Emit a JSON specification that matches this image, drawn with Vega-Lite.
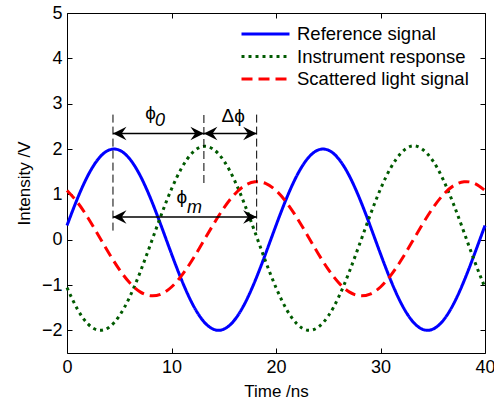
{
 "$schema": "https://vega.github.io/schema/vega-lite/v6.json",
 "autosize": "none",
 "width": 418, "height": 340,
 "padding": {"left": 67, "top": 13, "right": 9, "bottom": 49},
 "background": "white",
 "config": {"font": "Liberation Sans", "view": {"stroke": null},
   "axis": {"grid": false, "domainColor": "black", "tickColor": "black", "labelColor": "black", "titleColor": "black", "labelFontSize": 18, "titleFontSize": 17, "titleFontWeight": "normal", "domainWidth": 1, "tickWidth": 1, "labelFont": "Liberation Sans", "titleFont": "Liberation Sans"}},
 "resolve": {"axis": {"x": "independent", "y": "independent"}},
 "layer": [
  {
   "data": {"values": [
    {"t":0,"v":0.313,"series":"Reference signal"},{"t":1,"v":0.908,"series":"Reference signal"},{"t":2,"v":1.414,"series":"Reference signal"},{"t":3,"v":1.782,"series":"Reference signal"},{"t":4,"v":1.975,"series":"Reference signal"},{"t":5,"v":1.975,"series":"Reference signal"},{"t":6,"v":1.782,"series":"Reference signal"},{"t":7,"v":1.414,"series":"Reference signal"},{"t":8,"v":0.908,"series":"Reference signal"},{"t":9,"v":0.313,"series":"Reference signal"},{"t":10,"v":-0.313,"series":"Reference signal"},{"t":11,"v":-0.908,"series":"Reference signal"},{"t":12,"v":-1.414,"series":"Reference signal"},{"t":13,"v":-1.782,"series":"Reference signal"},{"t":14,"v":-1.975,"series":"Reference signal"},{"t":15,"v":-1.975,"series":"Reference signal"},{"t":16,"v":-1.782,"series":"Reference signal"},{"t":17,"v":-1.414,"series":"Reference signal"},{"t":18,"v":-0.908,"series":"Reference signal"},{"t":19,"v":-0.313,"series":"Reference signal"},{"t":20,"v":0.313,"series":"Reference signal"},{"t":21,"v":0.908,"series":"Reference signal"},{"t":22,"v":1.414,"series":"Reference signal"},{"t":23,"v":1.782,"series":"Reference signal"},{"t":24,"v":1.975,"series":"Reference signal"},{"t":25,"v":1.975,"series":"Reference signal"},{"t":26,"v":1.782,"series":"Reference signal"},{"t":27,"v":1.414,"series":"Reference signal"},{"t":28,"v":0.908,"series":"Reference signal"},{"t":29,"v":0.313,"series":"Reference signal"},{"t":30,"v":-0.313,"series":"Reference signal"},{"t":31,"v":-0.908,"series":"Reference signal"},{"t":32,"v":-1.414,"series":"Reference signal"},{"t":33,"v":-1.782,"series":"Reference signal"},{"t":34,"v":-1.975,"series":"Reference signal"},{"t":35,"v":-1.975,"series":"Reference signal"},{"t":36,"v":-1.782,"series":"Reference signal"},{"t":37,"v":-1.414,"series":"Reference signal"},{"t":38,"v":-0.908,"series":"Reference signal"},{"t":39,"v":-0.313,"series":"Reference signal"},{"t":40,"v":0.313,"series":"Reference signal"},
    {"t":0,"v":-1.058,"series":"Instrument response"},{"t":1,"v":-1.534,"series":"Instrument response"},{"t":2,"v":-1.858,"series":"Instrument response"},{"t":3,"v":-1.996,"series":"Instrument response"},{"t":4,"v":-1.936,"series":"Instrument response"},{"t":5,"v":-1.684,"series":"Instrument response"},{"t":6,"v":-1.264,"series":"Instrument response"},{"t":7,"v":-0.717,"series":"Instrument response"},{"t":8,"v":-0.097,"series":"Instrument response"},{"t":9,"v":0.535,"series":"Instrument response"},{"t":10,"v":1.118,"series":"Instrument response"},{"t":11,"v":1.594,"series":"Instrument response"},{"t":12,"v":1.918,"series":"Instrument response"},{"t":13,"v":2.056,"series":"Instrument response"},{"t":14,"v":1.996,"series":"Instrument response"},{"t":15,"v":1.744,"series":"Instrument response"},{"t":16,"v":1.324,"series":"Instrument response"},{"t":17,"v":0.777,"series":"Instrument response"},{"t":18,"v":0.157,"series":"Instrument response"},{"t":19,"v":-0.475,"series":"Instrument response"},{"t":20,"v":-1.058,"series":"Instrument response"},{"t":21,"v":-1.534,"series":"Instrument response"},{"t":22,"v":-1.858,"series":"Instrument response"},{"t":23,"v":-1.996,"series":"Instrument response"},{"t":24,"v":-1.936,"series":"Instrument response"},{"t":25,"v":-1.684,"series":"Instrument response"},{"t":26,"v":-1.264,"series":"Instrument response"},{"t":27,"v":-0.717,"series":"Instrument response"},{"t":28,"v":-0.097,"series":"Instrument response"},{"t":29,"v":0.535,"series":"Instrument response"},{"t":30,"v":1.118,"series":"Instrument response"},{"t":31,"v":1.594,"series":"Instrument response"},{"t":32,"v":1.918,"series":"Instrument response"},{"t":33,"v":2.066,"series":"Instrument response"},{"t":34,"v":1.996,"series":"Instrument response"},{"t":35,"v":1.744,"series":"Instrument response"},{"t":36,"v":1.324,"series":"Instrument response"},{"t":37,"v":0.777,"series":"Instrument response"},{"t":38,"v":0.157,"series":"Instrument response"},{"t":39,"v":-0.475,"series":"Instrument response"},{"t":40,"v":-1.058,"series":"Instrument response"},
    {"t":0,"v":1.084,"series":"Scattered light signal"},{"t":1,"v":0.823,"series":"Scattered light signal"},{"t":2,"v":0.484,"series":"Scattered light signal"},{"t":3,"v":0.099,"series":"Scattered light signal"},{"t":4,"v":-0.293,"series":"Scattered light signal"},{"t":5,"v":-0.655,"series":"Scattered light signal"},{"t":6,"v":-0.951,"series":"Scattered light signal"},{"t":7,"v":-1.152,"series":"Scattered light signal"},{"t":8,"v":-1.237,"series":"Scattered light signal"},{"t":9,"v":-1.2,"series":"Scattered light signal"},{"t":10,"v":-1.044,"series":"Scattered light signal"},{"t":11,"v":-0.783,"series":"Scattered light signal"},{"t":12,"v":-0.444,"series":"Scattered light signal"},{"t":13,"v":-0.059,"series":"Scattered light signal"},{"t":14,"v":0.333,"series":"Scattered light signal"},{"t":15,"v":0.695,"series":"Scattered light signal"},{"t":16,"v":0.991,"series":"Scattered light signal"},{"t":17,"v":1.192,"series":"Scattered light signal"},{"t":18,"v":1.277,"series":"Scattered light signal"},{"t":19,"v":1.24,"series":"Scattered light signal"},{"t":20,"v":1.084,"series":"Scattered light signal"},{"t":21,"v":0.823,"series":"Scattered light signal"},{"t":22,"v":0.484,"series":"Scattered light signal"},{"t":23,"v":0.099,"series":"Scattered light signal"},{"t":24,"v":-0.293,"series":"Scattered light signal"},{"t":25,"v":-0.655,"series":"Scattered light signal"},{"t":26,"v":-0.951,"series":"Scattered light signal"},{"t":27,"v":-1.152,"series":"Scattered light signal"},{"t":28,"v":-1.237,"series":"Scattered light signal"},{"t":29,"v":-1.2,"series":"Scattered light signal"},{"t":30,"v":-1.044,"series":"Scattered light signal"},{"t":31,"v":-0.783,"series":"Scattered light signal"},{"t":32,"v":-0.444,"series":"Scattered light signal"},{"t":33,"v":-0.059,"series":"Scattered light signal"},{"t":34,"v":0.333,"series":"Scattered light signal"},{"t":35,"v":0.695,"series":"Scattered light signal"},{"t":36,"v":0.991,"series":"Scattered light signal"},{"t":37,"v":1.192,"series":"Scattered light signal"},{"t":38,"v":1.277,"series":"Scattered light signal"},{"t":39,"v":1.24,"series":"Scattered light signal"},{"t":40,"v":1.084,"series":"Scattered light signal"}
   ]},
   "mark": {"type": "line", "interpolate": "natural", "strokeWidth": 3},
   "encoding": {
    "x": {"field": "t", "type": "quantitative", "scale": {"domain": [0, 40], "nice": false}, "axis": {"orient": "bottom", "values": [0, 10, 20, 30, 40], "tickSize": -5, "labelPadding": 10, "title": "Time /ns", "titlePadding": 7, "labelFlush": false}},
    "y": {"field": "v", "type": "quantitative", "scale": {"domain": [-2.5, 5], "nice": false, "zero": false}, "axis": {"orient": "left", "values": [-2, -1, 0, 1, 2, 3, 4, 5], "tickSize": -5, "labelPadding": 10, "title": "Intensity /V", "titlePadding": 8}},
    "color": {"field": "series", "type": "nominal", "scale": {"domain": ["Reference signal", "Instrument response", "Scattered light signal"], "range": ["#0000ff", "#005a00", "#ff0000"]},
      "legend": {"title": null, "orient": "none", "legendX": 173, "legendY": 10, "symbolType": "stroke", "symbolSize": 2304, "symbolStrokeWidth": 3, "labelFontSize": 18.5, "labelOffset": 6, "rowPadding": 0.5, "clipHeight": 22, "labelLimit": 300, "labelColor": "black"}},
    "strokeDash": {"field": "series", "type": "nominal", "scale": {"domain": ["Reference signal", "Instrument response", "Scattered light signal"], "range": [[1, 0], [3, 4], [11, 6]]},
      "legend": {"title": null, "orient": "none", "legendX": 173, "legendY": 10, "symbolType": "stroke", "symbolSize": 2304, "symbolStrokeWidth": 3, "labelFontSize": 18.5, "labelOffset": 6, "rowPadding": 0.5, "clipHeight": 22, "labelLimit": 300, "labelColor": "black"}}
   }
  },
  {
   "data": {"values": [{"x": 4.4, "y1": 0.2, "y2": 2.8}, {"x": 13.1, "y1": 1.25, "y2": 2.8}, {"x": 18.15, "y1": 0.2, "y2": 2.8}]},
   "mark": {"type": "rule", "color": "black", "strokeWidth": 1, "strokeDash": [8, 4]},
   "encoding": {
    "x": {"field": "x", "type": "quantitative", "axis": {"orient": "top", "values": [0, 10, 20, 30, 40], "labels": false, "title": null, "tickSize": -5}},
    "y": {"field": "y1", "type": "quantitative", "axis": {"orient": "right", "values": [-2, -1, 0, 1, 2, 3, 4, 5], "labels": false, "title": null, "tickSize": -5}},
    "y2": {"field": "y2"}
   }
  },
  {
   "data": {"values": [{"x1": 4.4, "x2": 13.1, "y": 2.34}, {"x1": 13.1, "x2": 18.15, "y": 2.34}, {"x1": 4.4, "x2": 18.15, "y": 0.5}]},
   "mark": {"type": "rule", "color": "black", "strokeWidth": 1.5},
   "encoding": {
    "x": {"field": "x1", "type": "quantitative", "axis": null},
    "x2": {"field": "x2"},
    "y": {"field": "y", "type": "quantitative", "axis": null}
   }
  },
  {
   "data": {"values": [{"x": 4.4, "y": 2.34, "dir": "left"}, {"x": 13.1, "y": 2.34, "dir": "right"}, {"x": 13.1, "y": 2.34, "dir": "left"}, {"x": 18.15, "y": 2.34, "dir": "right"}, {"x": 4.4, "y": 0.5, "dir": "left"}, {"x": 18.15, "y": 0.5, "dir": "right"}]},
   "mark": {"type": "point", "filled": true, "color": "black", "opacity": 1, "size": 729, "strokeWidth": 0},
   "encoding": {
    "x": {"field": "x", "type": "quantitative", "axis": null},
    "y": {"field": "y", "type": "quantitative", "axis": null},
    "shape": {"field": "dir", "type": "nominal", "legend": null, "scale": {"domain": ["left", "right"], "range": ["M0,0L1,-0.5L0.65,0L1,0.5Z", "M0,0L-1,-0.5L-0.65,0L-1,0.5Z"]}}
   }
  },
  {
   "data": {"values": [{"x": 8.0, "y": 2.8, "label": "ϕ"}, {"x": 15.9, "y": 2.72, "label": "Δϕ"}, {"x": 11.0, "y": 0.94, "label": "ϕ"}]},
   "mark": {"type": "text", "fontSize": 19, "align": "center", "baseline": "middle", "color": "black", "font": "Liberation Sans"},
   "encoding": {
    "x": {"field": "x", "type": "quantitative", "axis": null},
    "y": {"field": "y", "type": "quantitative", "axis": null},
    "text": {"field": "label"}
   }
  },
  {
   "data": {"values": [{"x": 8.9, "y": 2.62, "label": "0"}, {"x": 12.2, "y": 0.7, "label": "m"}]},
   "mark": {"type": "text", "fontSize": 18, "fontStyle": "italic", "align": "center", "baseline": "middle", "color": "black", "font": "Liberation Sans"},
   "encoding": {
    "x": {"field": "x", "type": "quantitative", "axis": null},
    "y": {"field": "y", "type": "quantitative", "axis": null},
    "text": {"field": "label"}
   }
  }
 ]
}
